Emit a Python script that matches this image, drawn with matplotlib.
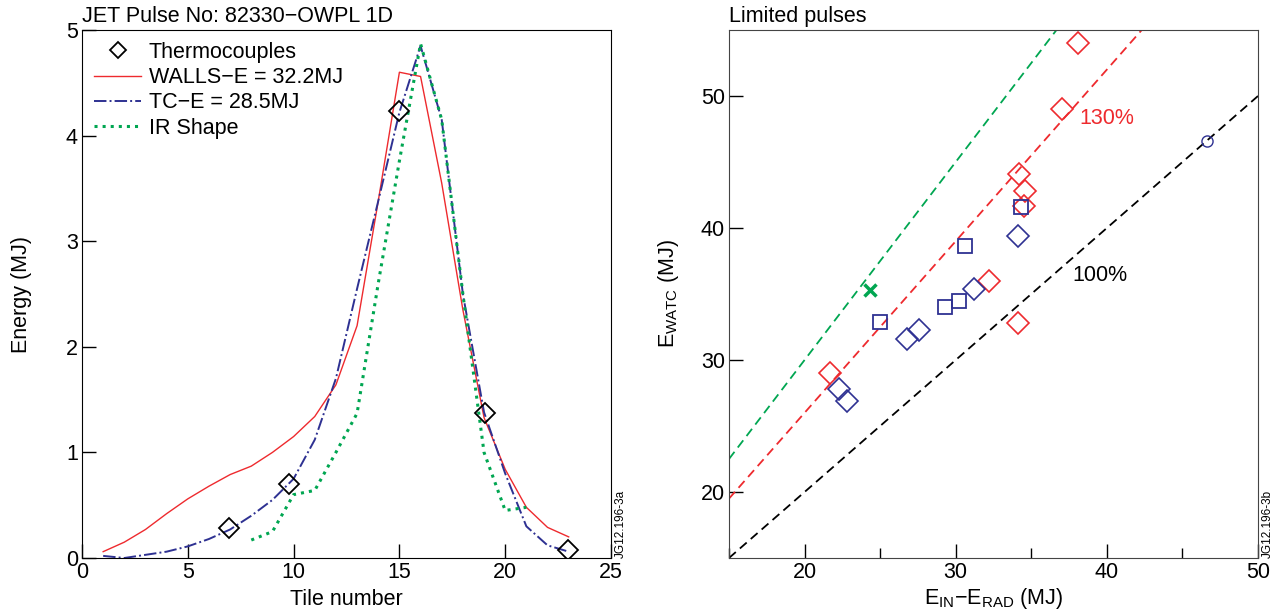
import numpy as np
import matplotlib
matplotlib.use('Agg')
from matplotlib import pyplot as plt
from matplotlib.ticker import MultipleLocator

plt.rcParams['font.family'] = ['Liberation Sans', 'DejaVu Sans']
plt.rcParams['mathtext.fontset'] = 'custom'
plt.rcParams['mathtext.rm'] = 'Liberation Sans'
plt.rcParams['mathtext.it'] = 'Liberation Sans'

RED = '#ee2a2e'
BLUE = '#2e3192'
GREEN = '#00a651'

# --- left panel: energy per tile ---
tiles = list(range(1, 24))
walls_e = [0.06, 0.15, 0.27, 0.42, 0.56, 0.68, 0.79, 0.87, 1.0, 1.15, 1.34, 1.64, 2.2,
           3.38, 4.6, 4.56, 3.55, 2.35, 1.33, 0.84, 0.48, 0.29, 0.2]
tc_e = [0.02, 0.0, 0.03, 0.06, 0.11, 0.18, 0.27, 0.4, 0.55, 0.75, 1.12, 1.7, 2.55,
        3.38, 4.22, 4.85, 4.15, 2.5, 1.38, 0.8, 0.3, 0.12, 0.06]
ir_tiles = list(range(8, 22))
ir_shape = [0.17, 0.25, 0.6, 0.64, 1.0, 1.37, 2.6, 3.76, 4.87, 4.15, 2.5, 1.0, 0.45, 0.48]
tc_x = [6.95, 9.8, 15.0, 19.05, 22.95]
tc_y = [0.28, 0.7, 4.23, 1.37, 0.08]

# --- right panel: limited pulses ---
red_x = [21.7, 32.2, 34.1, 34.5, 34.6, 34.2, 37.0, 38.1]
red_y = [29.0, 36.0, 32.8, 41.7, 42.8, 44.1, 49.0, 54.0]
sq_x = [25.0, 29.3, 30.2, 30.6, 34.3]
sq_y = [32.9, 34.0, 34.5, 38.6, 41.6]
bd_x = [22.3, 22.8, 26.8, 27.6, 31.2, 34.1]
bd_y = [27.8, 26.9, 31.6, 32.3, 35.4, 39.4]
cross_x = [24.3]
cross_y = [35.3]
circ_x = [46.6]
circ_y = [46.6]
ratios = [1.0, 1.3, 1.5]

fig = plt.figure(figsize=(12.79, 6.16), dpi=100)
ax1 = fig.add_axes([82 / 1279, 1 - 558 / 616, 529 / 1279, 528 / 616])
ax2 = fig.add_axes([729 / 1279, 1 - 558 / 616, 529 / 1279, 528 / 616])

fs = 15.5

ax1.plot(tc_x, tc_y, 'D', ms=10, mfc='none', mec='black', mew=1.3, ls='none',
         label='Thermocouples', zorder=5)
ax1.plot(tiles, walls_e, '-', color=RED, lw=1.0, label='WALLS\u2212E = 32.2MJ')
ax1.plot(tiles, tc_e, '-.', color=BLUE, lw=1.4, label='TC\u2212E = 28.5MJ')
ax1.plot(ir_tiles, ir_shape, ':', color=GREEN, lw=2.2, label='IR Shape')
ax1.set_xlim(0, 25)
ax1.set_ylim(0, 5)
ax1.set_xticks([0, 5, 10, 15, 20, 25])
ax1.set_yticks([0, 1, 2, 3, 4, 5])
ax1.tick_params(direction='in', length=10, width=1, labelsize=fs, pad=3)
ax1.set_xlabel('Tile number', fontsize=fs, labelpad=4)
ax1.set_ylabel('Energy (MJ)', fontsize=fs, labelpad=24)
ax1.set_title('JET Pulse No: 82330\u2212OWPL 1D', fontsize=fs, loc='left', pad=6)
ax1.legend(loc='upper left', frameon=False, fontsize=fs, handlelength=2.2,
           handletextpad=0.35, labelspacing=0.2, borderaxespad=0.3,
           borderpad=0.25, markerscale=0.85)
ax1.text(1.008, 0.0, 'JG12.196-3a', transform=ax1.transAxes, rotation=90,
         fontsize=8.5, ha='left', va='bottom')

xs = np.array([15, 50])
for r, c in zip(ratios, ['black', RED, GREEN]):
    ax2.plot(xs, r * xs, '--', color=c, lw=1.3, dashes=(5, 3))
ax2.plot(red_x, red_y, 'D', ms=11, mfc='none', mec=RED, mew=1.2, ls='none')
ax2.plot(sq_x, sq_y, 's', ms=10, mfc='none', mec=BLUE, mew=1.3, ls='none')
ax2.plot(bd_x, bd_y, 'D', ms=11, mfc='none', mec=BLUE, mew=1.2, ls='none')
ax2.plot(cross_x, cross_y, 'x', ms=9, mec=GREEN, mew=2.5, ls='none')
ax2.plot(circ_x, circ_y, 'o', ms=8, mfc='none', mec=BLUE, mew=1.0, ls='none')
ax2.text(38.2, 48.3, '130%', color=RED, fontsize=fs, va='center', ha='left')
ax2.text(37.7, 36.4, '100%', color='black', fontsize=fs, va='center', ha='left')
ax2.set_xlim(15, 50)
ax2.set_ylim(15, 55)
ax2.xaxis.set_major_locator(MultipleLocator(10))
ax2.xaxis.set_minor_locator(MultipleLocator(5))
ax2.yaxis.set_major_locator(MultipleLocator(10))
ax2.tick_params(which='major', direction='in', length=10, width=1, labelsize=fs, pad=3)
ax2.tick_params(which='minor', direction='in', length=7, width=1)
ax2.set_xlabel(r'E$_{\rm IN}$$-$E$_{\rm RAD}$ (MJ)', fontsize=fs, labelpad=2)
ax2.set_ylabel(r'E$_{\rm WATC}$ (MJ)', fontsize=fs, labelpad=14)
ax2.set_title('Limited pulses', fontsize=fs, loc='left', pad=6)
ax2.text(1.008, 0.0, 'JG12.196-3b', transform=ax2.transAxes, rotation=90,
         fontsize=8.5, ha='left', va='bottom')
for sp in ax2.spines.values():
    sp.set_color('#444444')

fig.savefig('out.png', dpi=100)
